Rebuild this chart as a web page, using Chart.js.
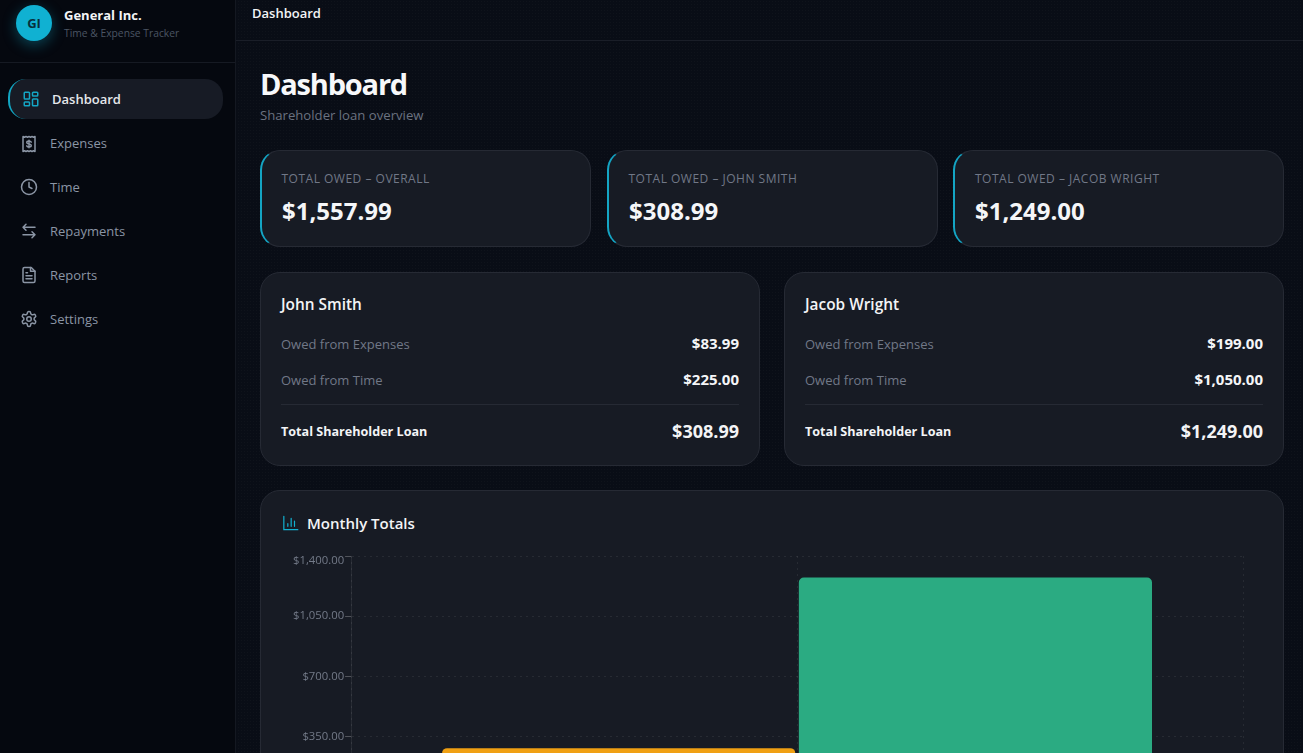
<!DOCTYPE html>
<html>
<head>
<meta charset="utf-8">
<title>Dashboard</title>
<script src="https://cdn.jsdelivr.net/npm/chart.js@4"></script>
<style>
* { box-sizing: border-box; }
html, body { margin: 0; height: 100%; overflow: hidden; background-color: #090d16; background-image: radial-gradient(rgba(255,255,255,.025) 1px, transparent 1px); background-size: 3px 3px; font-family: "Open Sans", sans-serif; color: #f3f4f6; }
.abs { position: absolute; white-space: nowrap; }
#sidebar { position: absolute; left: 0; top: 0; width: 236px; height: 753px; background: #05080f; border-right: 1px solid #141821; }
#brandline { position: absolute; left: 0; top: 62px; width: 235px; height: 1px; background: #161a23; }
#avatar { position: absolute; left: 16px; top: 5px; width: 36px; height: 36px; border-radius: 50%; background: #10b1d2; color: #07303c; font-size: 13px; font-weight: 700; text-align: center; line-height: 36px; box-shadow: 0 4px 14px rgba(16,181,214,.35); }
.nav { position: absolute; font-size: 13px; color: #8b95a5; line-height: 18px; white-space: nowrap; }
.navicon { position: absolute; left: 20px; width: 18px; height: 18px; fill: none; stroke: #8b95a5; stroke-width: 2; stroke-linecap: round; stroke-linejoin: round; }
#active { position: absolute; left: 8px; top: 79px; width: 215px; height: 40px; border-radius: 18px; background: #171b25; border-left: 2px solid #12a5c2; }
#topline { position: absolute; left: 236px; top: 40px; width: 1067px; height: 1px; background: #1a1e28; }
.card { position: absolute; background: #171b24; border: 1px solid #262a34; border-radius: 20px; }
.stat { top: 150px; height: 97px; width: 331px; border-left: 2px solid #14a5c4; }
.person { top: 272px; height: 194px; width: 500px; }
#chartcard { left: 260px; top: 490px; width: 1024px; height: 340px; }
.lab { font-size: 12px; font-weight: 500; color: #717887; letter-spacing: .5px; }
.val { font-size: 24px; font-weight: 700; color: #f5f6f8; }
.row { font-size: 13px; color: #717887; }
.rv { font-size: 15px; font-weight: 700; color: #f5f6f8; text-align: right; }
.who { font-size: 15.400px; font-weight: 600; }
.tot { font-size: 12.600px; font-weight: 700; }
#chart { position: absolute; left: 292px; top: 546px; }
</style>
</head>
<body>
<div id="sidebar"></div>
<div id="brandline"></div>
<div id="avatar">GI</div>
<div class="abs" style="left:64px;top:6px;font-size:13px;font-weight:700;color:#f3f4f6;line-height:18px">General Inc.</div>
<div class="abs" style="left:64px;top:26px;font-size:10.300px;color:#4b5563;line-height:14px">Time &amp; Expense Tracker</div>
<div id="active"></div>
<svg class="navicon" style="left:22px;top:90px;stroke:#14a5c4" viewBox="0 0 24 24"><rect x="3" y="3" width="7" height="9" rx="1"/><rect x="14" y="3" width="7" height="5" rx="1"/><rect x="14" y="12" width="7" height="9" rx="1"/><rect x="3" y="16" width="7" height="5" rx="1"/></svg>
<div class="nav" style="left:52px;top:90px;color:#e5e7eb;font-weight:600">Dashboard</div>
<svg class="navicon" style="top:135px" viewBox="0 0 24 24"><path d="M4 2v20l2-1 2 1 2-1 2 1 2-1 2 1 2-1 2 1V2l-2 1-2-1-2 1-2-1-2 1-2-1-2 1z"/><path d="M12 7v10M15 9.500c-.5-1-1.500-1.500-3-1.500-1.700 0-3 .8-3 2s1.300 1.800 3 2 3 .8 3 2-1.300 2-3 2c-1.500 0-2.500-.5-3-1.500"/></svg>
<div class="nav" style="left:50px;top:134px">Expenses</div>
<svg class="navicon" style="top:178px" viewBox="0 0 24 24"><circle cx="12" cy="12" r="10"/><path d="M12 6v6l4 2"/></svg>
<div class="nav" style="left:50px;top:178px">Time</div>
<svg class="navicon" style="top:222px" viewBox="0 0 24 24"><path d="M8 3 4 7l4 4M4 7h16M16 21l4-4-4-4M20 17H4"/></svg>
<div class="nav" style="left:50px;top:222px">Repayments</div>
<svg class="navicon" style="top:266px" viewBox="0 0 24 24"><path d="M15 2H6a2 2 0 0 0-2 2v16a2 2 0 0 0 2 2h12a2 2 0 0 0 2-2V7z"/><path d="M14 2v5h6M16 13H8M16 17H8M10 9H8"/></svg>
<div class="nav" style="left:50px;top:266px">Reports</div>
<svg class="navicon" style="top:310px" viewBox="0 0 24 24"><path d="M12.200 2h-.4a2 2 0 0 0-2 2v.2a2 2 0 0 1-1 1.700l-.4.300a2 2 0 0 1-2 0l-.2-.1a2 2 0 0 0-2.700.7l-.2.400a2 2 0 0 0 .7 2.700l.2.100a2 2 0 0 1 1 1.700v.5a2 2 0 0 1-1 1.700l-.2.100a2 2 0 0 0-.7 2.700l.2.400a2 2 0 0 0 2.700.7l.2-.1a2 2 0 0 1 2 0l.4.300a2 2 0 0 1 1 1.700v.2a2 2 0 0 0 2 2h.4a2 2 0 0 0 2-2v-.2a2 2 0 0 1 1-1.700l.4-.3a2 2 0 0 1 2 0l.2.100a2 2 0 0 0 2.700-.7l.2-.4a2 2 0 0 0-.7-2.700l-.2-.1a2 2 0 0 1-1-1.700v-.5a2 2 0 0 1 1-1.700l.2-.1a2 2 0 0 0 .7-2.700l-.2-.4a2 2 0 0 0-2.700-.7l-.2.100a2 2 0 0 1-2 0l-.4-.3a2 2 0 0 1-1-1.700V4a2 2 0 0 0-2-2z"/><circle cx="12" cy="12" r="3"/></svg>
<div class="nav" style="left:50px;top:310px">Settings</div>

<div id="topline"></div>
<div class="abs" style="left:252px;top:4px;font-size:13px;font-weight:600;line-height:18px">Dashboard</div>
<div class="abs" style="left:260px;top:63px;font-size:29px;font-weight:700;line-height:42px;letter-spacing:-1.200px;color:#f7f8fa">Dashboard</div>
<div class="abs" style="left:260px;top:106px;font-size:13.150px;line-height:18px;color:#6b7280">Shareholder loan overview</div>

<div class="card stat" style="left:260px"></div>
<div class="card stat" style="left:607px"></div>
<div class="card stat" style="left:953px"></div>
<div class="abs lab" style="left:281.500px;top:170px">TOTAL OWED – OVERALL</div>
<div class="abs lab" style="left:628.500px;top:170px">TOTAL OWED – JOHN SMITH</div>
<div class="abs lab" style="left:975px;top:170px">TOTAL OWED – JACOB WRIGHT</div>
<div class="abs val" style="left:282px;top:194px">$1,557.99</div>
<div class="abs val" style="left:629px;top:194px">$308.99</div>
<div class="abs val" style="left:975px;top:194px">$1,249.00</div>

<div class="card person" style="left:260px"></div>
<div class="card person" style="left:784px"></div>
<div class="abs who" style="left:281px;top:294px">John Smith</div>
<div class="abs row" style="left:281px;top:335px">Owed from Expenses</div>
<div class="abs rv" style="right:564px;top:333px">$83.99</div>
<div class="abs row" style="left:281px;top:371px">Owed from Time</div>
<div class="abs rv" style="right:564px;top:369px">$225.00</div>
<div class="abs" style="left:281px;top:404px;width:458px;height:1px;background:#262a34"></div>
<div class="abs tot" style="left:281px;top:423px">Total Shareholder Loan</div>
<div class="abs" style="right:564px;top:419px;font-size:18px;font-weight:700">$308.99</div>

<div class="abs who" style="left:805px;top:294px">Jacob Wright</div>
<div class="abs row" style="left:805px;top:335px">Owed from Expenses</div>
<div class="abs rv" style="right:40px;top:333px">$199.00</div>
<div class="abs row" style="left:805px;top:371px">Owed from Time</div>
<div class="abs rv" style="right:40px;top:369px">$1,050.00</div>
<div class="abs" style="left:805px;top:404px;width:458px;height:1px;background:#262a34"></div>
<div class="abs tot" style="left:805px;top:423px">Total Shareholder Loan</div>
<div class="abs" style="right:40px;top:419px;font-size:18px;font-weight:700">$1,249.00</div>

<div class="card" id="chartcard"></div>
<svg class="abs" style="left:282px;top:515px;width:17px;height:16px;fill:none;stroke:#12b0d0;stroke-width:1.800;stroke-linecap:round" viewBox="0 0 24 24"><path d="M2 2v20h21M8 17v-4M13 17V5M18 17V9"/></svg>
<div class="abs" style="left:307px;top:513px;font-size:15px;font-weight:600">Monthly Totals</div>

<canvas id="chart" width="971" height="278"></canvas>

<script>
// Nothing below y=753 is visible in the reference, so the month label stays blank
var categories = [''];
var expensesValues = [282.99];
var timeValues = [1275];
var yTicks = [0, 350, 700, 1050, 1400];

var gridColor = 'rgba(255, 255, 255, 0.07)';
var topTick = yTicks[yTicks.length - 1];

document.addEventListener('DOMContentLoaded', function () {
    var ctx = document.getElementById('chart').getContext('2d');
    new Chart(ctx, {
        type: 'bar',
        data: {
            labels: categories,
            datasets: [{
                label: 'Expenses',
                data: expensesValues,
                backgroundColor: '#f0a013',
                borderRadius: 5,
                barPercentage: 0.99
            }, {
                label: 'Time',
                data: timeValues,
                backgroundColor: '#2bab82',
                borderRadius: 5,
                barPercentage: 0.99
            }]
        },
        options: {
            responsive: false,
            animation: false,
            layout: { padding: { right: 20 } },
            plugins: { legend: { display: false }, tooltip: { enabled: false } },
            scales: {
                x: {
                    grid: { color: gridColor, tickBorderDash: [2, 4] },
                    border: { color: gridColor, dash: [2, 4] },
                    ticks: { color: '#737a88', font: { family: 'Open Sans', size: 11 } }
                },
                // second axis only draws the grid line through the middle of the month
                xCenter: {
                    type: 'category',
                    labels: categories,
                    position: 'bottom',
                    offset: true,
                    grid: { color: gridColor, offset: false, drawTicks: false, tickBorderDash: [2, 4] },
                    border: { display: false, dash: [2, 4] },
                    ticks: { display: false }
                },
                y: {
                    min: yTicks[0],
                    max: topTick,
                    afterBuildTicks: function (scale) {
                        scale.ticks = yTicks.map(function (v) { return { value: v }; });
                    },
                    grid: { color: gridColor, tickColor: 'rgba(255, 255, 255, 0.25)', tickLength: 6, tickBorderDash: [] },
                    border: { color: gridColor, dash: [2, 4] },
                    ticks: {
                        color: '#737a88',
                        padding: 1,
                        // top label sits a few pixels under its tick, as in the reference
                        font: function (c) {
                            var lh = c.tick && c.tick.value === topTick ? 0.8 : 1.2;
                            return { family: 'Open Sans', size: 11.3, lineHeight: lh };
                        },
                        callback: function (value) {
                            var s = '$' + value.toLocaleString('en-US', { minimumFractionDigits: 2, maximumFractionDigits: 2 });
                            return value === topTick ? ['', s] : s;
                        }
                    }
                }
            }
        }
    });
});
</script>
</body>
</html>
